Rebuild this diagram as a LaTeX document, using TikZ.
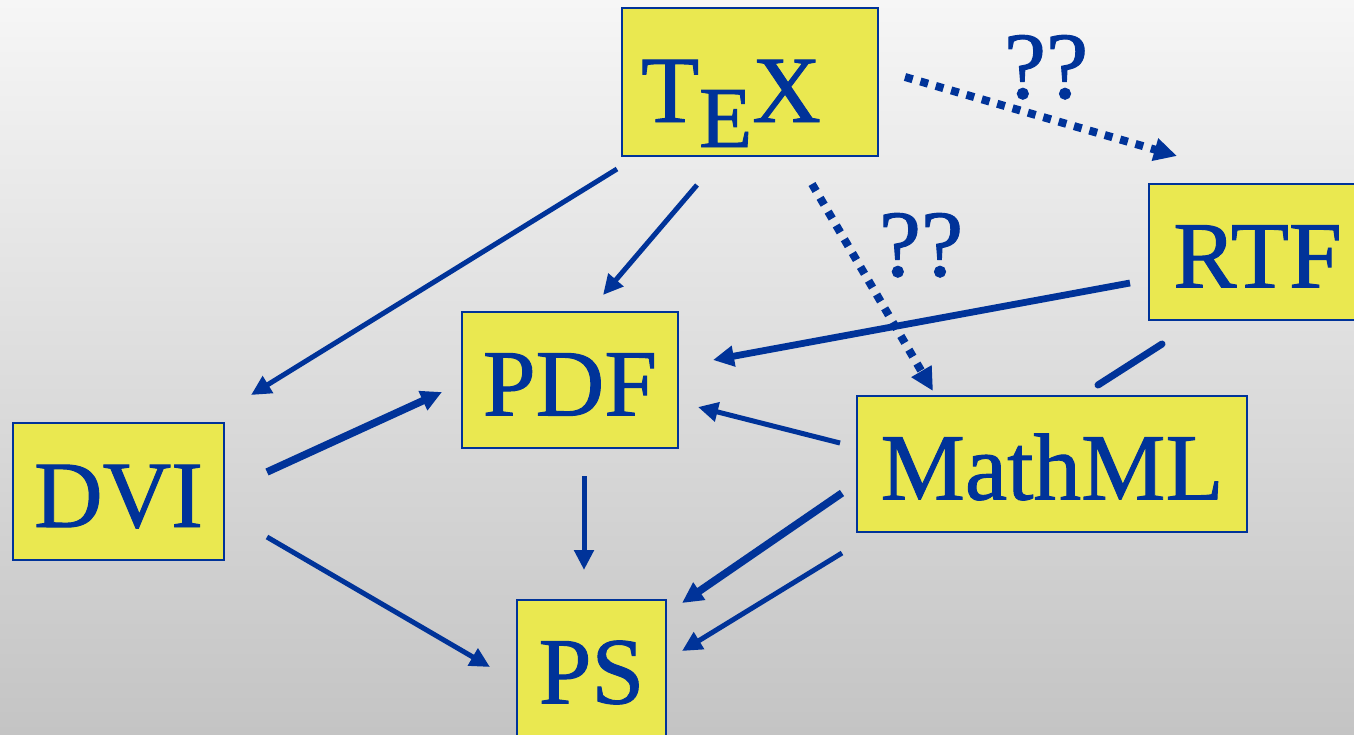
\documentclass[tikz,border=0pt]{standalone}
\usepackage{fontspec}
\setmainfont{Liberation Serif}
\newfontface\boxfont{Liberation Serif}[FakeBold=1]
\usetikzlibrary{arrows.meta}
\definecolor{dblue}{RGB}{0,51,153}
\definecolor{byellow}{RGB}{234,232,80}
\definecolor{bgtop}{RGB}{246,246,246}
\definecolor{bgbot}{RGB}{196,196,196}
\tikzset{
  fmtbox/.style={draw=dblue, line width=2.2pt, fill=byellow, inner sep=0pt,
    text=dblue, font=\boxfont\fontsize{95}{95}\selectfont,
    minimum height=136pt, text height=71pt, text depth=0pt},
  qlabel/.style={text=dblue, font=\boxfont\fontsize{95}{95}\selectfont, inner sep=0pt, anchor=base},
  thinarr/.style={draw=dblue, line width=5pt, -{Triangle[length=20pt,width=19pt]}},
  thickarr/.style={draw=dblue, line width=7.5pt, -{Triangle[length=21pt,width=20pt]}},
  dotarr/.style={draw=dblue, line width=8pt, dash pattern=on 8pt off 8pt,
    -{Triangle[length=23pt,width=22pt]}},
  plainline/.style={draw=dblue, line width=7pt, line cap=round},
}
\begin{document}
\begin{tikzpicture}[x=1pt,y=-1pt]
\useasboundingbox (0,0) rectangle (1354,734);
\clip (0,0) rectangle (1354,734);
\shade[top color=bgtop, bottom color=bgbot] (0,0) rectangle (1354,734);

% boxes
\node[fmtbox, minimum width=256pt, minimum height=148pt, text height=80pt] (tex) at (750,82)
  {T\lower25pt\hbox{\fontsize{87}{87}\selectfont E}X\kern38pt};
\node[fmtbox, minimum width=217pt] (rtf) at (1257.5,252) {RTF};
\node[fmtbox, minimum width=216pt] (pdf) at (570,380) {PDF};
\node[fmtbox, minimum width=390pt] (mathml) at (1052,464) {MathML};
\node[fmtbox, minimum width=211pt, minimum height=137pt] (dvi) at (118.5,491.5) {DVI};
\node[fmtbox, minimum width=149pt] (ps) at (591.5,668) {PS};

% labels
\node[qlabel] (q1) at (1046,98) {??};
\node[qlabel] (q2) at (921,276) {??};

% connector end points
\coordinate (texDvi) at (617,169);   \coordinate (dviTex) at (251,395);
\coordinate (texPdf) at (697,185);   \coordinate (pdfTex) at (603,295);
\coordinate (texMml) at (812,184);   \coordinate (mmlTex) at (933,391);
\coordinate (texRtf) at (905,77);    \coordinate (rtfTex) at (1177,156);
\coordinate (rtfPdf) at (1130,283);  \coordinate (pdfRtf) at (713,360);
\coordinate (rtfMml) at (1162,344);  \coordinate (mmlRtf) at (1098,385);
\coordinate (mmlPdf) at (840,443);   \coordinate (pdfMml) at (698,407);
\coordinate (dviPdf) at (267,472);   \coordinate (pdfDvi) at (442,392);
\coordinate (dviPs)  at (267,537);   \coordinate (psDvi)  at (490,667);
\coordinate (pdfPs)  at (584,476);   \coordinate (psPdf)  at (584,570);
\coordinate (mmlPsA) at (842,493);   \coordinate (psMmlA) at (682,603);
\coordinate (mmlPsB) at (842,553);   \coordinate (psMmlB) at (682,651);

% connectors
\draw[thinarr] (texDvi) -- (dviTex);
\draw[thinarr] (texPdf) -- (pdfTex);
\draw[dotarr] (texRtf) -- (rtfTex);
\draw[thickarr, line width=6.8pt] (rtfPdf) -- (pdfRtf);
\draw[dotarr] (texMml) -- (mmlTex);
\draw[plainline] (rtfMml) -- (mmlRtf);
\draw[thinarr] (mmlPdf) -- (pdfMml);
\draw[thickarr] (dviPdf) -- (pdfDvi);
\draw[thinarr] (dviPs) -- (psDvi);
\draw[thinarr] (pdfPs) -- (psPdf);
\draw[thickarr] (mmlPsA) -- (psMmlA);
\draw[thinarr] (mmlPsB) -- (psMmlB);
\end{tikzpicture}
\end{document}
